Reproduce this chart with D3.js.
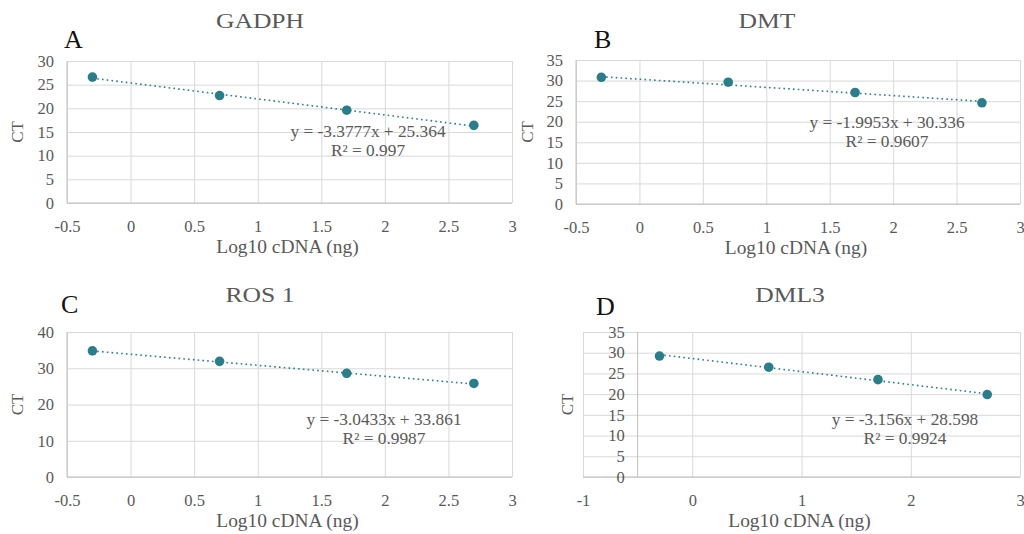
<!DOCTYPE html>
<html>
<head>
<meta charset="utf-8">
<script src="https://cdn.jsdelivr.net/npm/d3@7"></script>
<style>
  body { margin: 0; background: #fff; }
  svg text { font-family: "Liberation Serif", "Times New Roman", serif; }
</style>
</head>
<body>
<div id="container"></div>
<script>
// 数据
const logCdna = [-0.3, 0.7, 1.7, 2.7];
const ctGadph = [26.6, 22.7, 19.6, 16.4];
const ctDmt = [30.8, 29.6, 27.1, 24.6];
const ctRos1 = [34.8, 31.9, 28.6, 25.8];
const ctDml3 = [29.2, 26.5, 23.5, 19.9];

const geneNames = ['GADPH', 'DMT', 'ROS 1', 'DML3'];
const panelLetters = ['A', 'B', 'C', 'D'];
const slopes = [-3.3777, -1.9953, -3.0433, -3.156];
const intercepts = [25.364, 30.336, 33.861, 28.598];
const eqLabels = ['y = -3.3777x + 25.364', 'y = -1.9953x + 30.336', 'y = -3.0433x + 33.861', 'y = -3.156x + 28.598'];
const r2Labels = ['R² = 0.997', 'R² = 0.9607', 'R² = 0.9987', 'R² = 0.9924'];

const xTicksHalf = [-0.5, 0, 0.5, 1, 1.5, 2, 2.5, 3];
const xTicksUnit = [-1, 0, 1, 2, 3];
const yTicks30 = [0, 5, 10, 15, 20, 25, 30];
const yTicks35 = [0, 5, 10, 15, 20, 25, 30, 35];
const yTicks40 = [0, 10, 20, 30, 40];

const xLabel = 'Log10 cDNA (ng)';
const yLabel = 'CT';

// 布局
const W = 1024, H = 534;
const COLOR = '#2b7d8a';
const GRID = '#d9d9d9';
const TEXT = '#595959';

const panels = [
  { ct: ctGadph, xTicks: xTicksHalf, yTicks: yTicks30, box: [67, 512, 61, 203], yAxisAt: -0.5,
    title: [260, 28], letter: [64, 48], eq: [368, 137], ctX: 18 },
  { ct: ctDmt, xTicks: xTicksHalf, yTicks: yTicks35, box: [576, 1020, 60, 204], yAxisAt: -0.5,
    title: [767, 28], letter: [594, 48], eq: [887, 128], ctX: 528 },
  { ct: ctRos1, xTicks: xTicksHalf, yTicks: yTicks40, box: [67, 512, 332, 477], yAxisAt: -0.5,
    title: [260, 302], letter: [61, 313], eq: [384, 425], ctX: 18 },
  { ct: ctDml3, xTicks: xTicksUnit, yTicks: yTicks35, box: [583, 1020, 332, 477], yAxisAt: -0.5,
    title: [790, 302], letter: [596, 315], eq: [905, 425], ctX: 568 }
];

const svg = d3.select('#container')
  .append('svg')
  .attr('width', W)
  .attr('height', H);

panels.forEach((p, i) => {
  const [x0, x1, y0, y1] = p.box;
  const x = d3.scaleLinear()
    .domain([p.xTicks[0], p.xTicks[p.xTicks.length - 1]])
    .range([x0, x1]);
  const y = d3.scaleLinear()
    .domain([0, p.yTicks[p.yTicks.length - 1]])
    .range([y1, y0]);
  const g = svg.append('g');

  // 网格
  g.append('g')
    .attr('transform', `translate(0,${y1})`)
    .call(d3.axisBottom(x).tickValues(p.xTicks).tickSize(-(y1 - y0)).tickFormat(''))
    .call(s => s.select('.domain').remove())
    .call(s => s.selectAll('line').attr('stroke', GRID));
  g.append('g')
    .attr('transform', `translate(${x0},0)`)
    .call(d3.axisLeft(y).tickValues(p.yTicks).tickSize(-(x1 - x0)).tickFormat(''))
    .call(s => s.select('.domain').remove())
    .call(s => s.selectAll('line').attr('stroke', GRID));

  // 坐标轴线
  g.append('line')
    .attr('x1', x0).attr('x2', x1)
    .attr('y1', y1).attr('y2', y1)
    .attr('stroke', '#bfbfbf');
  const ax = x(p.yAxisAt);
  g.append('line')
    .attr('x1', ax).attr('x2', ax)
    .attr('y1', y0).attr('y2', y1)
    .attr('stroke', '#bfbfbf');

  // 刻度文字（用普通连字符）
  g.append('g')
    .attr('transform', `translate(0,${y1})`)
    .call(d3.axisBottom(x).tickValues(p.xTicks).tickSize(0).tickPadding(17).tickFormat(d => String(d)))
    .call(s => s.select('.domain').remove())
    .call(s => s.selectAll('text').attr('fill', TEXT).style('font-size', '16.5px'));
  g.append('g')
    .attr('transform', `translate(${ax},0)`)
    .call(d3.axisLeft(y).tickValues(p.yTicks).tickSize(0).tickPadding(13).tickFormat(d => String(d)))
    .call(s => s.select('.domain').remove())
    .call(s => s.selectAll('text').attr('fill', TEXT).style('font-size', '16.5px'));

  // 趋势线
  const xs = [logCdna[0], logCdna[logCdna.length - 1]];
  g.append('line')
    .attr('x1', x(xs[0])).attr('y1', y(slopes[i] * xs[0] + intercepts[i]))
    .attr('x2', x(xs[1])).attr('y2', y(slopes[i] * xs[1] + intercepts[i]))
    .attr('stroke', COLOR)
    .attr('stroke-width', 1.6)
    .attr('stroke-dasharray', '1.6,3.2');

  // 数据点
  g.selectAll('.pt')
    .data(logCdna.map((v, k) => ({ x: v, y: p.ct[k] })))
    .enter()
    .append('circle')
    .attr('class', 'pt')
    .attr('cx', d => x(d.x))
    .attr('cy', d => y(d.y))
    .attr('r', 4.8)
    .attr('fill', COLOR);

  // 方程
  g.append('text')
    .attr('transform', `translate(${p.eq[0]},${p.eq[1]}) scale(1.05,1)`)
    .attr('text-anchor', 'middle')
    .attr('fill', TEXT)
    .style('font-size', '16.5px')
    .text(eqLabels[i]);
  g.append('text')
    .attr('transform', `translate(${p.eq[0]},${p.eq[1] + 19}) scale(1.05,1)`)
    .attr('text-anchor', 'middle')
    .attr('fill', TEXT)
    .style('font-size', '16.5px')
    .text(r2Labels[i]);

  // 标题
  g.append('text')
    .attr('transform', `translate(${p.title[0]},${p.title[1]}) scale(1.22,1)`)
    .attr('text-anchor', 'middle')
    .attr('fill', TEXT)
    .style('font-size', '21px')
    .text(geneNames[i]);
  g.append('text')
    .attr('x', p.letter[0]).attr('y', p.letter[1])
    .attr('fill', '#111')
    .style('font-size', '26px')
    .text(panelLetters[i]);

  // 轴标题
  g.append('text')
    .attr('transform', `translate(${(x0 + x1) / 2 - 2},${y1 + 50}) scale(1.08,1)`)
    .attr('text-anchor', 'middle')
    .attr('fill', TEXT)
    .style('font-size', '18px')
    .text(xLabel);
  g.append('text')
    .attr('transform', `translate(${p.ctX + 5},${(y0 + y1) / 2}) rotate(-90)`)
    .attr('text-anchor', 'middle')
    .attr('fill', TEXT)
    .style('font-size', '17px')
    .text(yLabel);
});
</script>
</body>
</html>
